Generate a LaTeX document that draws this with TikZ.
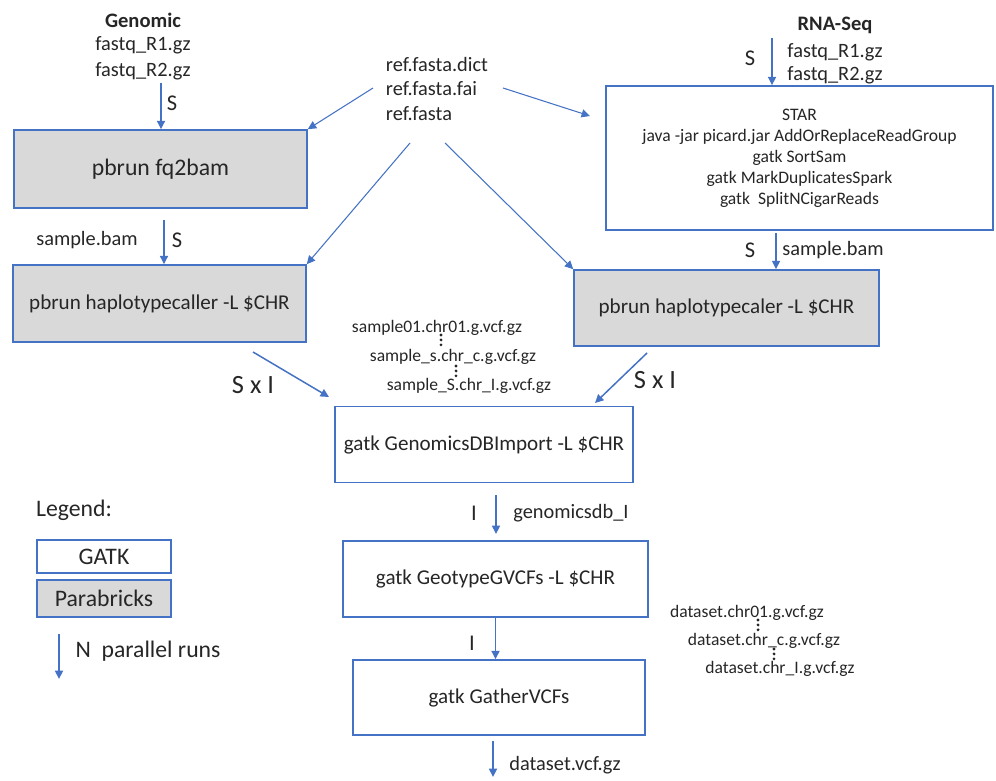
\documentclass[tikz,border=0pt]{standalone}
\usepackage{fontspec}
\setmainfont{Carlito}
\usetikzlibrary{arrows.meta}
\usetikzlibrary{positioning}
\definecolor{lineblue}{HTML}{4472C4}
\definecolor{boxgray}{HTML}{D9D9D9}

\begin{document}
\begin{tikzpicture}[
    x=0.02cm, y=-0.02cm,
    font=\fontsize{11.6}{14.2}\selectfont,
    text=black!85
]
\tikzset{
    gatkbox/.style = {rectangle, draw=lineblue, line width=0.9pt, fill=white, align=center, inner sep=0pt},
    pbbox/.style = {gatkbox, fill=boxgray},
    boxtxt/.style = {font=\fontsize{12}{14.4}\selectfont},
    bigtxt/.style = {font=\fontsize{13.5}{16}\selectfont},
    smalltxt/.style = {font=\fontsize{10}{12}\selectfont},
    headtxt/.style = {font=\fontsize{11.7}{14}\selectfont\bfseries},
    sxitxt/.style = {font=\fontsize{15}{18}\selectfont},
    cnttxt/.style = {font=\fontsize{12.8}{15}\selectfont},
    flow/.style = {-{Triangle[length=4.8pt,width=4.6pt]}, lineblue, line width=0.85pt},
    refflow/.style = {flow, line width=0.6pt},
    vdots/.style = {black!85, line width=1.8pt, line cap=round, dash pattern=on 0pt off 2.8pt}
}
\useasboundingbox (0,0) rectangle (996,780);

% genomic branch
\node[headtxt] at (143,20) (genomic) {Genomic};
\node at (143,45) (gfq1) {fastq\_R1.gz};
\node at (143,71) (gfq2) {fastq\_R2.gz};
\node[pbbox, bigtxt, minimum width=5.86cm, minimum height=1.56cm] at (160.5,169) (fqbam) {pbrun fq2bam};
\node[pbbox, boxtxt, minimum width=5.86cm, minimum height=1.54cm] at (159.5,303.5) (hcL) {pbrun haplotypecaller -L \$CHR};
\node at (87,240) (bamL) {sample.bam};
\node[cnttxt] at (172,103) (sG) {S};
\node[cnttxt] at (177,240) (sL) {S};

% reference files
\node[align=left, inner sep=0pt] at (437,89) (ref) {ref.fasta.dict\\ref.fasta.fai\\ref.fasta};

% rna-seq branch
\node[headtxt] at (835,25) (rnaseq) {RNA-Seq};
\node at (835,52) (rfq1) {fastq\_R1.gz};
\node at (835,75) (rfq2) {fastq\_R2.gz};
\node[cnttxt] at (750,58) (sR) {S};
\node[gatkbox, smalltxt, minimum width=7.74cm, minimum height=2.88cm] at (799.5,158) (star)
    {STAR\\java -jar picard.jar AddOrReplaceReadGroup\\gatk SortSam\\gatk MarkDuplicatesSpark\\gatk\ \ SplitNCigarReads};
\node[cnttxt] at (750,250) (sR2) {S};
\node at (833,250) (bamR) {sample.bam};
\node[pbbox, boxtxt, minimum width=6.10cm, minimum height=1.52cm] at (726.5,308) (hcR) {pbrun haplotypecaler -L \$CHR};

% joint steps
\node[smalltxt] at (437,328) (vcf1) {sample01.chr01.g.vcf.gz};
\node[smalltxt] at (453,357) (vcf2) {sample\_s.chr\_c.g.vcf.gz};
\node[smalltxt] at (469,386) (vcf3) {sample\_S.chr\_I.g.vcf.gz};
\node[sxitxt] at (253,385) (sxiL) {S x I};
\node[sxitxt] at (655,380) (sxiR) {S x I};
\node[gatkbox, boxtxt, minimum width=5.96cm, minimum height=1.52cm] at (484,444.5) (gdb) {gatk GenomicsDBImport -L \$CHR};
\node[cnttxt] at (474,513) (iA) {I};
\node at (571,513) (gdbout) {genomicsdb\_I};
\node[gatkbox, boxtxt, minimum width=6.10cm, minimum height=1.52cm] at (495.5,579) (geno) {gatk GeotypeGVCFs -L \$CHR};
\node[cnttxt] at (472,643) (iB) {I};
\node[gatkbox, boxtxt, minimum width=5.84cm, minimum height=1.50cm] at (499,697.5) (gather) {gatk GatherVCFs};
\node at (565,765) (final) {dataset.vcf.gz};
\node[smalltxt] at (747,613) (ds1) {dataset.chr01.g.vcf.gz};
\node[smalltxt] at (764,641) (ds2) {dataset.chr\_c.g.vcf.gz};
\node[smalltxt] at (780,669) (ds3) {dataset.chr\_I.g.vcf.gz};

% legend
\node[bigtxt] at (74,510) (legend) {Legend:};
\node[gatkbox, bigtxt, minimum width=2.68cm, minimum height=0.66cm] at (104,556.5) (lgatk) {GATK};
\node[pbbox, bigtxt, minimum width=2.68cm, minimum height=0.74cm] at (104,598.5) (lpb) {Parabricks};
\node[bigtxt] at (148,651) (lruns) {N\ \ parallel runs};

% arrow ends
\coordinate (gs) at (161,83);
\coordinate (ls) at (164,220);
\coordinate (rs) at (772,38);
\coordinate (rs2) at (776,233);
\coordinate (r1) at (373,88);
\coordinate (r2) at (503,88);
\coordinate (r3) at (410,143);
\coordinate (r4) at (445,143);
\coordinate (sin) at (590,116);
\coordinate (xl1) at (253,352);
\coordinate (xl2) at (329,397);
\coordinate (xr1) at (647,353);
\coordinate (xr2) at (595,403);
\coordinate (gd1) at (496,495);
\coordinate (gd2) at (496,534);
\coordinate (out1) at (493,741);
\coordinate (out2) at (493,777);
\coordinate (lg1) at (59,634);
\coordinate (lg2) at (59,679);
\coordinate (d1a) at (441,335);
\coordinate (d1b) at (441,346);
\coordinate (d2a) at (456,366);
\coordinate (d2b) at (456,377);
\coordinate (d3a) at (758,620);
\coordinate (d3b) at (758,631);
\coordinate (d4a) at (774,649);
\coordinate (d4b) at (774,660);

\draw[flow] (gs) -- (fqbam.north -| gs);
\draw[flow] (ls) -- (hcL.north -| ls);
\draw[refflow] (r1) -- (fqbam.north east);
\draw[refflow] (r2) -- (sin);
\draw[refflow] (r3) -- (hcL.north east);
\draw[refflow] (r4) -- (hcR.north west);
\draw[flow] (rs) -- (star.north -| rs);
\draw[flow] (rs2) -- (hcR.north -| rs2);
\draw[flow] (xl1) -- (xl2);
\draw[flow] (xr1) -- (xr2);
\draw[flow] (gd1) -- (gd2);
\draw[flow] (geno.south) -- (geno.south |- gather.north);
\draw[flow] (out1) -- (out2);
\draw[flow] (lg1) -- (lg2);
\draw[vdots] (d1a) -- (d1b);
\draw[vdots] (d2a) -- (d2b);
\draw[vdots] (d3a) -- (d3b);
\draw[vdots] (d4a) -- (d4b);
\end{tikzpicture}
\end{document}
